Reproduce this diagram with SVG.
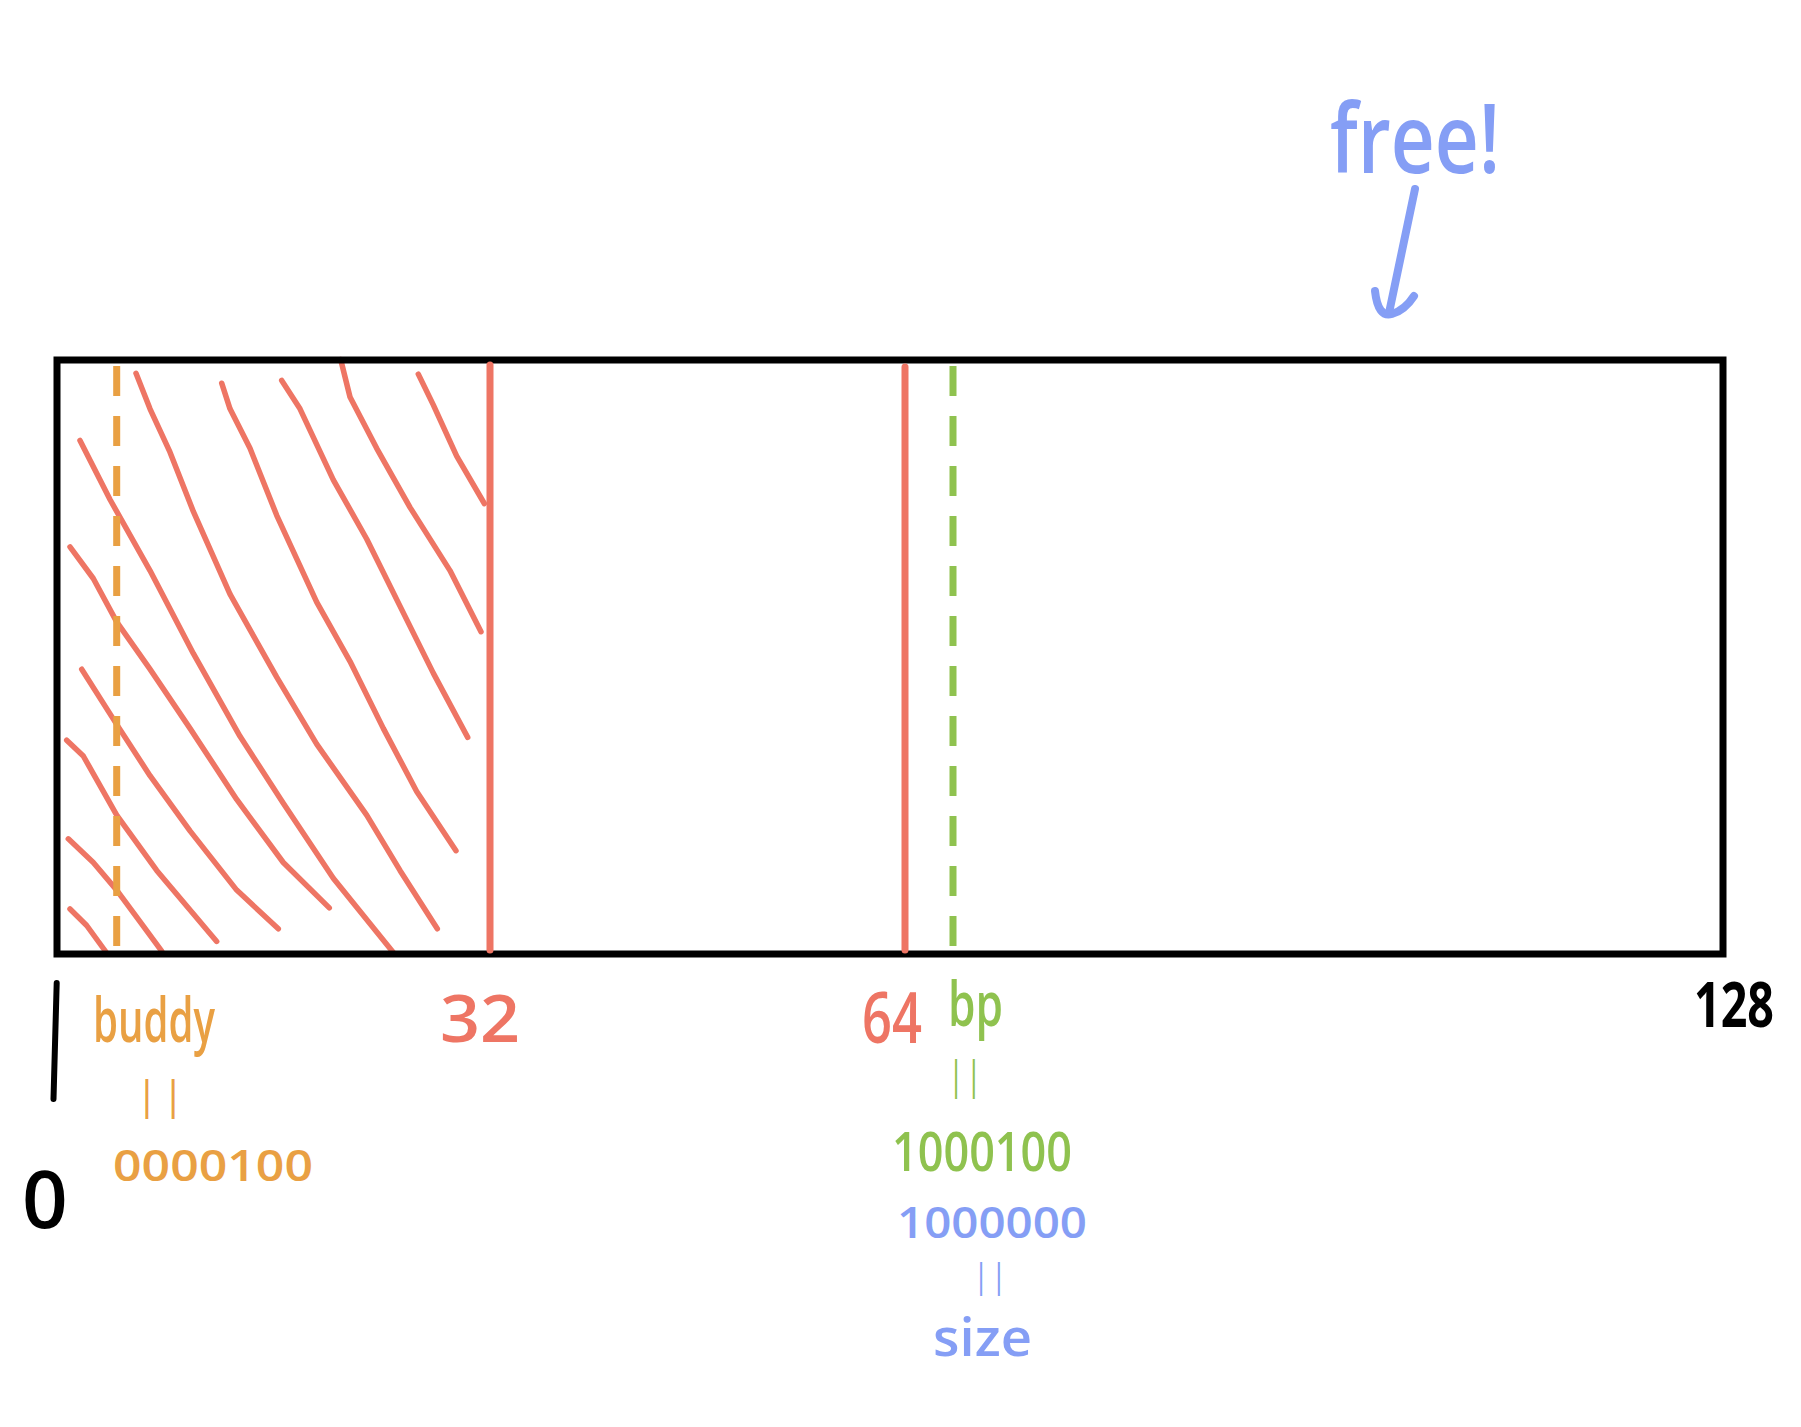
<svg xmlns="http://www.w3.org/2000/svg" width="1801" height="1427" viewBox="0 0 1801 1427">
<style>
.t{font-family:"Open Sans","Liberation Sans",sans-serif;font-weight:600}
.hatch{fill:none;stroke:#EE7564;stroke-width:5.5;stroke-linecap:round;stroke-linejoin:round}
.orange{fill:#E9A043}
.red{fill:#EE7564}
.green{fill:#8FC24F}
.blue{fill:#859EF5}
.black{fill:#000}
</style>
<rect width="1801" height="1427" fill="#fff"/>
<g id="block">
<g id="hatching" class="hatch">
<polyline points="70,909 86.7,925.5 106.7,953"/>
<polyline points="68.3,838.8 93.3,862.5 116.7,890.1 140,921.7 161.7,951.2"/>
<polyline points="66.7,740.2 83.3,756 116.7,815.2 156.7,870.4 216.7,941.4"/>
<polyline points="81.7,669.2 116.7,724.4 150,775.7 190,830.9 236.7,890.1 278.3,928.8"/>
<polyline points="70,546.9 93.3,578.5 116.7,621.9 150,669.2 190,728.4 236.7,799.4 283.3,862.5 329.3,907.9"/>
<polyline points="80,440.4 110,499.5 150,570.6 193.3,653.4 240,736.3 283.3,803.3 333.3,878.3 393.3,952.4"/>
<polyline points="136,373.3 150,408.8 170,452.2 193.3,511.4 230,594.2 276.7,677.1 316.7,744.1 366.7,815.2 400,870.4 437.3,928.8"/>
<polyline points="221.7,383.2 230,408.8 250,448.3 276.7,515.3 316.7,602.1 350,661.3 383.3,728.4 416.7,791.5 456,850.7"/>
<polyline points="281.7,380.4 300,408.8 333.3,479.8 366.7,539 400,606.1 433.3,673.1 467.7,737.4"/>
<polyline points="340.7,359.5 350,397 376.7,448.3 410,507.4 450,570.6 481,631.7"/>
<polyline points="418.3,374.1 433.3,404.9 456.7,456.2 484.3,503.5"/>
</g>
<rect x="57" y="360" width="1666" height="594" fill="none" stroke="#000" stroke-width="7"/>
<line x1="116.7" y1="366" x2="116.7" y2="950" stroke="#E9A043" stroke-width="7" stroke-dasharray="30 20"/>
<line x1="953" y1="366" x2="953" y2="950" stroke="#8FC24F" stroke-width="7" stroke-dasharray="30 20"/>
<line x1="490" y1="365" x2="490" y2="950" stroke="#EE7564" stroke-width="7" stroke-linecap="round"/>
<line x1="905" y1="367" x2="905" y2="950" stroke="#EE7564" stroke-width="7" stroke-linecap="round"/>
</g>
<g id="label-0">
<line x1="56.7" y1="983" x2="53.5" y2="1099" stroke="#000" stroke-width="6" stroke-linecap="round"/>
<text class="t black" x="22" y="1228" font-size="80">0</text>
</g>
<g id="label-buddy">
<text class="t orange" x="93" y="1042" font-size="62" textLength="122" lengthAdjust="spacingAndGlyphs">buddy</text>
<text class="t orange" x="138" y="1109" font-size="40" textLength="44" lengthAdjust="spacingAndGlyphs">| |</text>
<text class="t orange" x="113" y="1181" font-size="44" textLength="200" lengthAdjust="spacingAndGlyphs">0000100</text>
</g>
<g id="label-32">
<text class="t red" x="440" y="1042" font-size="66" textLength="80" lengthAdjust="spacingAndGlyphs">32</text>
</g>
<g id="label-64">
<text class="t red" x="862" y="1043" font-size="70" textLength="60" lengthAdjust="spacingAndGlyphs">64</text>
</g>
<g id="label-bp">
<text class="t green" x="948" y="1026" font-size="62" textLength="55" lengthAdjust="spacingAndGlyphs">bp</text>
<text class="t green" x="950" y="1089" font-size="40" textLength="30" lengthAdjust="spacingAndGlyphs">| |</text>
<text class="t green" x="892" y="1171" font-size="54" textLength="180" lengthAdjust="spacingAndGlyphs">1000100</text>
</g>
<g id="label-size">
<text class="t blue" x="897" y="1238" font-size="44" textLength="190" lengthAdjust="spacingAndGlyphs">1000000</text>
<text class="t blue" x="975" y="1288" font-size="34" textLength="30" lengthAdjust="spacingAndGlyphs">| |</text>
<text class="t blue" x="933" y="1356" font-size="52" textLength="99" lengthAdjust="spacingAndGlyphs">size</text>
</g>
<g id="label-128">
<text class="t black" x="1694" y="1027" font-size="62" style="font-weight:700" textLength="80" lengthAdjust="spacingAndGlyphs">128</text>
</g>
<g id="label-free">
<text class="t blue" x="1330" y="173" font-size="96" textLength="170" lengthAdjust="spacingAndGlyphs">free!</text>
</g>
<g id="connectors">
<path d="M1415,189 L1389,313" fill="none" stroke="#859EF5" stroke-width="8" stroke-linecap="round"/>
<path d="M1375,291 Q1378,318 1392,314 Q1405,310 1414,296" fill="none" stroke="#859EF5" stroke-width="8" stroke-linecap="round" stroke-linejoin="round"/>
</g>
</svg>
